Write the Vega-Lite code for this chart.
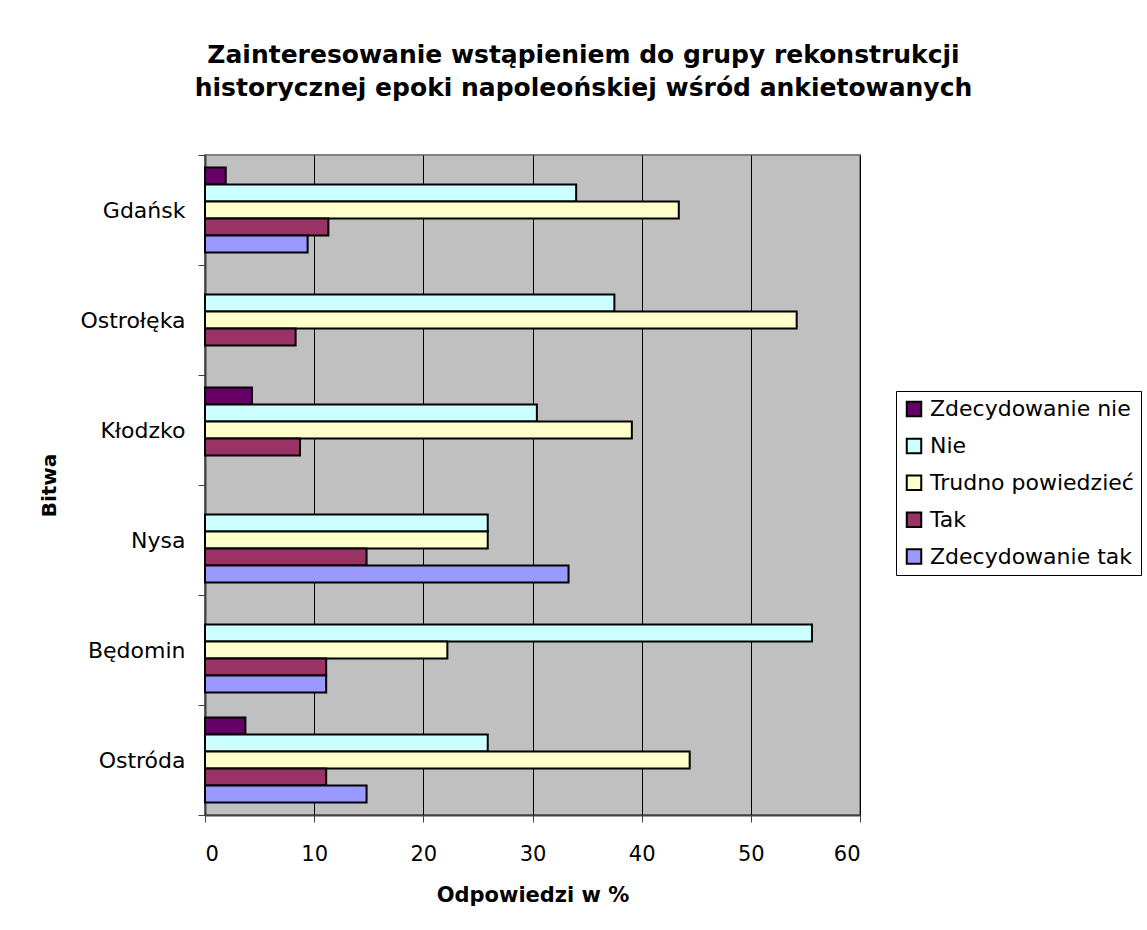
{
  "$schema": "https://vega.github.io/schema/vega-lite/v6.json",
  "width": 655,
  "height": 660,
  "autosize": {"type": "none"},
  "padding": {"left": 205, "top": 155, "right": 287, "bottom": 115},
  "background": "white",
  "title": {
    "text": ["Zainteresowanie wstąpieniem do grupy rekonstrukcji", "historycznej epoki napoleońskiej wśród ankietowanych"],
    "font": "DejaVu Sans",
    "fontSize": 25,
    "fontWeight": "bold",
    "lineHeight": 33,
    "anchor": "middle",
    "dx": 51,
    "offset": 43,
    "color": "black"
  },
  "data": {
    "values": [
      {"bitwa": "Gdańsk", "odp": "Zdecydowanie nie", "proc": 1.9},
      {"bitwa": "Gdańsk", "odp": "Nie", "proc": 34.0},
      {"bitwa": "Gdańsk", "odp": "Trudno powiedzieć", "proc": 43.4},
      {"bitwa": "Gdańsk", "odp": "Tak", "proc": 11.3},
      {"bitwa": "Gdańsk", "odp": "Zdecydowanie tak", "proc": 9.4},
      {"bitwa": "Ostrołęka", "odp": "Nie", "proc": 37.5},
      {"bitwa": "Ostrołęka", "odp": "Trudno powiedzieć", "proc": 54.2},
      {"bitwa": "Ostrołęka", "odp": "Tak", "proc": 8.3},
      {"bitwa": "Kłodzko", "odp": "Zdecydowanie nie", "proc": 4.3},
      {"bitwa": "Kłodzko", "odp": "Nie", "proc": 30.4},
      {"bitwa": "Kłodzko", "odp": "Trudno powiedzieć", "proc": 39.1},
      {"bitwa": "Kłodzko", "odp": "Tak", "proc": 8.7},
      {"bitwa": "Nysa", "odp": "Nie", "proc": 25.9},
      {"bitwa": "Nysa", "odp": "Trudno powiedzieć", "proc": 25.9},
      {"bitwa": "Nysa", "odp": "Tak", "proc": 14.8},
      {"bitwa": "Nysa", "odp": "Zdecydowanie tak", "proc": 33.3},
      {"bitwa": "Będomin", "odp": "Nie", "proc": 55.6},
      {"bitwa": "Będomin", "odp": "Trudno powiedzieć", "proc": 22.2},
      {"bitwa": "Będomin", "odp": "Tak", "proc": 11.1},
      {"bitwa": "Będomin", "odp": "Zdecydowanie tak", "proc": 11.1},
      {"bitwa": "Ostróda", "odp": "Zdecydowanie nie", "proc": 3.7},
      {"bitwa": "Ostróda", "odp": "Nie", "proc": 25.9},
      {"bitwa": "Ostróda", "odp": "Trudno powiedzieć", "proc": 44.4},
      {"bitwa": "Ostróda", "odp": "Tak", "proc": 11.1},
      {"bitwa": "Ostróda", "odp": "Zdecydowanie tak", "proc": 14.8}
    ]
  },
  "mark": {"type": "bar", "stroke": "black", "strokeWidth": 2, "opacity": 1},
  "encoding": {
    "y": {
      "field": "bitwa",
      "type": "nominal",
      "sort": ["Gdańsk", "Ostrołęka", "Kłodzko", "Nysa", "Będomin", "Ostróda"],
      "scale": {"paddingInner": 0, "paddingOuter": 0},
      "axis": {
        "title": "Bitwa",
        "titleFont": "DejaVu Sans",
        "titleFontSize": 20,
        "titleFontWeight": "bold",
        "titleColor": "black",
        "titlePadding": 20,
        "labelFont": "DejaVu Sans",
        "labelFontSize": 22,
        "labelColor": "black",
        "labelPadding": 13,
        "tickBand": "extent",
        "tickSize": 7,
        "tickColor": "#404040",
        "tickWidth": 1,
        "domainColor": "#404040",
        "domainWidth": 2,
        "grid": false
      }
    },
    "yOffset": {
      "field": "odp",
      "type": "nominal",
      "sort": ["Zdecydowanie nie", "Nie", "Trudno powiedzieć", "Tak", "Zdecydowanie tak"],
      "scale": {"domain": ["Zdecydowanie nie", "Nie", "Trudno powiedzieć", "Tak", "Zdecydowanie tak"], "paddingInner": 0, "paddingOuter": 0.735}
    },
    "x": {
      "field": "proc",
      "type": "quantitative",
      "scale": {"domain": [0, 60], "nice": false},
      "axis": {
        "title": "Odpowiedzi w %",
        "titleFont": "DejaVu Sans",
        "titleFontSize": 21,
        "titleFontWeight": "bold",
        "titleColor": "black",
        "titlePadding": 20,
        "labelFont": "DejaVu Sans",
        "labelFontSize": 21,
        "labelColor": "black",
        "labelPadding": 21,
        "values": [0, 10, 20, 30, 40, 50, 60],
        "tickSize": 7,
        "tickColor": "#404040",
        "domainColor": "#404040",
        "domainWidth": 2,
        "grid": true,
        "gridColor": "black",
        "gridWidth": 1,
        "gridOpacity": 1
      }
    },
    "fill": {
      "field": "odp",
      "type": "nominal",
      "scale": {
        "domain": ["Zdecydowanie nie", "Nie", "Trudno powiedzieć", "Tak", "Zdecydowanie tak"],
        "range": ["#660066", "#CCFFFF", "#FFFFCC", "#993366", "#9999FF"]
      },
      "legend": {
        "title": null,
        "orient": "none",
        "legendX": 691,
        "legendY": 236,
        "symbolType": "square",
        "symbolSize": 210,
        "symbolStrokeColor": "black",
        "symbolStrokeWidth": 2,
        "symbolOpacity": 1,
        "labelFont": "DejaVu Sans",
        "labelFontSize": 22,
        "labelColor": "black",
        "labelOffset": 5,
        "rowPadding": 12.9,
        "strokeColor": "black",
        "padding": 7,
        "labelLimit": 300
      }
    }
  },
  "config": {
    "view": {"fill": "#C0C0C0", "stroke": "#808080", "strokeWidth": 2},
    "legend": {"fillColor": "white"}
  }
}
